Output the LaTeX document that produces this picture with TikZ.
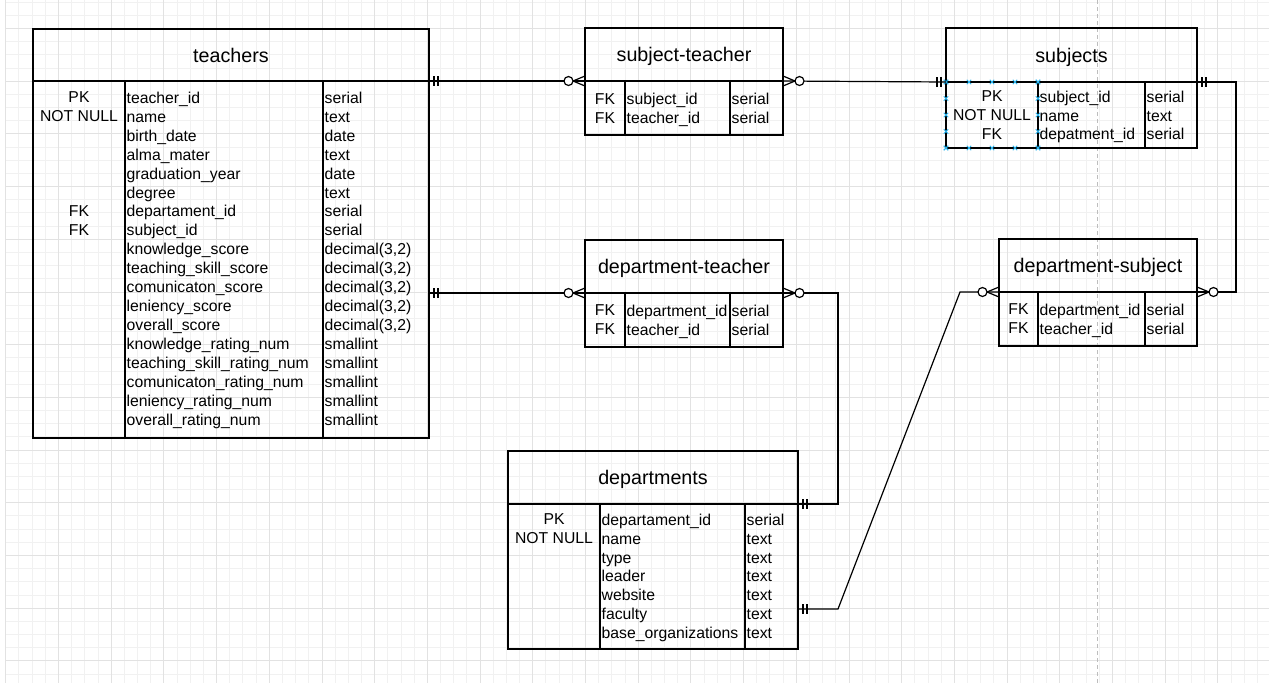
\documentclass[tikz,border=0pt]{standalone}
\usepackage{fontspec}
\setmainfont{Liberation Sans}
\usepackage{tikz}
\usetikzlibrary{positioning,calc}
\definecolor{gridminor}{HTML}{F1F1F1}
\definecolor{gridmajor}{HTML}{E2E2E2}
\definecolor{pagegray}{HTML}{BDBDBD}
\definecolor{selblue}{HTML}{29B6F2}
\tikzset{
  tabhead/.style={rectangle,draw,line width=1.2pt,anchor=north west,inner sep=0pt,outer sep=0pt,
                  font=\fontsize{19.7}{23}\selectfont,text height=14.2pt,text depth=0pt},
  tabcol/.style={rectangle,draw,line width=1.2pt,anchor=north west,inner sep=0pt,outer sep=0pt},
  keytxt/.style={inner sep=0pt,align=center,font=\fontsize{15.75}{18.94}\selectfont},
  coltxt/.style={inner sep=0pt,align=left,font=\fontsize{15.75}{18.94}\selectfont},
  rel/.style={line width=1.2pt},
  gridthin/.style={draw=gridminor,line width=0.8pt},
  gridthick/.style={draw=gridmajor,line width=0.8pt},
  zeromany/.pic={\draw[rel] (0,-5) -- (12,0) -- (0,5);
                 \draw[rel,fill=white] (16.5,0) circle[radius=4.5pt];},
  oneone/.pic={\draw[rel] (5,-5) -- (5,5) (9,-5) -- (9,5);},
  selmark/.pic={\draw[selblue,line width=0.9pt] (-2.2,-2.2) -- (2.2,2.2) (-2.2,2.2) -- (2.2,-2.2);},
}
\begin{document}
\begin{tikzpicture}[x=1pt,y=-1pt]
  \useasboundingbox (0,0) rectangle (1269,683);
  \fill[white] (0,0) rectangle (1269,683);
  % ---- canvas grid ----
  \foreach \i in {0,...,96} \draw[gridthin] ({5.7+13.175*\i},0) -- ({5.7+13.175*\i},683);
  \foreach \i in {0,...,51} \draw[gridthin] (5.7,{2.05+13.175*\i}) -- (1269,{2.05+13.175*\i});
  \foreach \i in {0,...,24} \draw[gridthick] ({5.7+52.7*\i},0) -- ({5.7+52.7*\i},683);
  \foreach \i in {0,...,12} \draw[gridthick] (5.7,{28.4+52.7*\i}) -- (1269,{28.4+52.7*\i});
  \draw[pagegray,line width=1pt,dash pattern=on 4pt off 3pt] (1097,0) -- (1097,683);
  % ---- teachers ----
  \node[tabhead,minimum width=396pt,minimum height=52pt] (tHead) at (33,29) {teachers};
  \node[tabcol,minimum width=92pt,minimum height=357pt] (tKey) at (tHead.south west) {};
  \node[tabcol,minimum width=198pt,minimum height=357pt] (tName) at (tKey.north east) {};
  \node[tabcol,minimum width=106pt,minimum height=357pt] (tType) at (tName.north east) {};
  \node[keytxt,below=10.7pt of tKey.north] (tKeyTxt)
    {PK\\NOT NULL\\\mbox{}\\\mbox{}\\\mbox{}\\\mbox{}\\FK\\FK};
  \node[coltxt,below right=10.7pt and 1.5pt of tName.north west] (tNameTxt)
    {teacher\_id\\name\\birth\_date\\alma\_mater\\graduation\_year\\degree\\departament\_id\\
     subject\_id\\knowledge\_score\\teaching\_skill\_score\\comunicaton\_score\\leniency\_score\\
     overall\_score\\knowledge\_rating\_num\\teaching\_skill\_rating\_num\\comunicaton\_rating\_num\\
     leniency\_rating\_num\\overall\_rating\_num};
  \node[coltxt,below right=10.7pt and 1.5pt of tType.north west] (tTypeTxt)
    {serial\\text\\date\\text\\date\\text\\serial\\serial\\decimal(3,2)\\decimal(3,2)\\
     decimal(3,2)\\decimal(3,2)\\decimal(3,2)\\smallint\\smallint\\smallint\\smallint\\smallint};
  % ---- subject-teacher ----
  \node[tabhead,minimum width=198pt,minimum height=53pt] (stHead) at (585,28) {subject-teacher};
  \node[tabcol,minimum width=40pt,minimum height=54pt] (stKey) at (stHead.south west) {};
  \node[tabcol,minimum width=105pt,minimum height=54pt] (stName) at (stKey.north east) {};
  \node[tabcol,minimum width=53pt,minimum height=54pt] (stType) at (stName.north east) {};
  \node[keytxt,below=12.2pt of stKey.north] (stKeyTxt) {FK\\FK};
  \node[coltxt,below right=12.2pt and 1.5pt of stName.north west] (stNameTxt) {subject\_id\\teacher\_id};
  \node[coltxt,below right=12.2pt and 1.5pt of stType.north west] (stTypeTxt) {serial\\serial};
  % ---- subjects ----
  \node[tabhead,minimum width=251pt,minimum height=54pt] (sHead) at (946,28) {subjects};
  \node[tabcol,minimum width=92pt,minimum height=66pt] (sKey) at (sHead.south west) {};
  \node[tabcol,minimum width=107pt,minimum height=66pt] (sName) at (sKey.north east) {};
  \node[tabcol,minimum width=52pt,minimum height=66pt] (sType) at (sName.north east) {};
  \node[keytxt,below=8.5pt of sKey.north] (sKeyTxt) {PK\\NOT NULL\\FK};
  \node[coltxt,below right=8.5pt and 1.5pt of sName.north west] (sNameTxt) {subject\_id\\name\\depatment\_id};
  \node[coltxt,below right=8.5pt and 1.5pt of sType.north west] (sTypeTxt) {serial\\text\\serial};
  % ---- department-teacher ----
  \node[tabhead,minimum width=198pt,minimum height=53pt] (dtHead) at (585,240) {department-teacher};
  \node[tabcol,minimum width=40pt,minimum height=54pt] (dtKey) at (dtHead.south west) {};
  \node[tabcol,minimum width=105pt,minimum height=54pt] (dtName) at (dtKey.north east) {};
  \node[tabcol,minimum width=53pt,minimum height=54pt] (dtType) at (dtName.north east) {};
  \node[keytxt,below=11.5pt of dtKey.north] (dtKeyTxt) {FK\\FK};
  \node[coltxt,below right=11.5pt and 1.5pt of dtName.north west] (dtNameTxt) {department\_id\\teacher\_id};
  \node[coltxt,below right=11.5pt and 1.5pt of dtType.north west] (dtTypeTxt) {serial\\serial};
  % ---- department-subject ----
  \node[tabhead,minimum width=198pt,minimum height=53pt] (dsHead) at (999,239) {department-subject};
  \node[tabcol,minimum width=39pt,minimum height=54pt] (dsKey) at (dsHead.south west) {};
  \node[tabcol,minimum width=107pt,minimum height=54pt] (dsName) at (dsKey.north east) {};
  \node[tabcol,minimum width=52pt,minimum height=54pt] (dsType) at (dsName.north east) {};
  \node[keytxt,below=11.5pt of dsKey.north] (dsKeyTxt) {FK\\FK};
  \node[coltxt,below right=11.5pt and 1.5pt of dsName.north west] (dsNameTxt) {department\_id\\teacher\_id};
  \node[coltxt,below right=11.5pt and 1.5pt of dsType.north west] (dsTypeTxt) {serial\\serial};
  % ---- departments ----
  \node[tabhead,minimum width=290pt,minimum height=53pt] (dHead) at (508,451) {departments};
  \node[tabcol,minimum width=92pt,minimum height=145pt] (dKey) at (dHead.south west) {};
  \node[tabcol,minimum width=145pt,minimum height=145pt] (dName) at (dKey.north east) {};
  \node[tabcol,minimum width=53pt,minimum height=145pt] (dType) at (dName.north east) {};
  \node[keytxt,below=9.5pt of dKey.north] (dKeyTxt) {PK\\NOT NULL};
  \node[coltxt,below right=9.5pt and 1.5pt of dName.north west] (dNameTxt)
    {departament\_id\\name\\type\\leader\\website\\faculty\\base\_organizations};
  \node[coltxt,below right=9.5pt and 1.5pt of dType.north west] (dTypeTxt)
    {serial\\text\\text\\text\\text\\text\\text};
  % ---- selected cell ----
  \foreach \k in {0,...,4} {
    \pic at ($(sKey.north west)+(23*\k,0)$) {selmark};
    \pic at ($(sKey.south west)+(23*\k,0)$) {selmark};
    \pic at ($(sKey.north west)+(0,16.5*\k)$) {selmark};
    \pic at ($(sKey.north east)+(0,16.5*\k)$) {selmark};
  }
  % ---- relations ----
  \coordinate (tOut) at (tType.east |- dtHead.south);
  \coordinate (dOut) at ($(dType.south east)+(0,-40)$);
  \coordinate (dsIn) at ($(dsHead.south west)+(-39,0)$);
  \draw[rel] (tHead.south east) -- (stHead.south west);
  \draw[rel] (tOut) -- (dtHead.south west);
  \draw[rel] (stHead.south east) -- (sHead.south west);
  \draw[rel] (sHead.south east) -- ++(39,0) |- (dsHead.south east);
  \draw[rel] (dtHead.south east) -- ++(55,0) |- (dHead.south east);
  \draw[rel] (dOut) -- ++(40,0) -- (dsIn) -- (dsHead.south west);
  % ---- ends ----
  \pic at (tHead.south east) {oneone};
  \pic[rotate=180] at (stHead.south west) {zeromany};
  \pic at (tOut) {oneone};
  \pic[rotate=180] at (dtHead.south west) {zeromany};
  \pic at (stHead.south east) {zeromany};
  \pic[rotate=180] at (sHead.south west) {oneone};
  \pic at (sHead.south east) {oneone};
  \pic at (dsHead.south east) {zeromany};
  \pic at (dtHead.south east) {zeromany};
  \pic at (dHead.south east) {oneone};
  \pic at (dOut) {oneone};
  \pic[rotate=180] at (dsHead.south west) {zeromany};
\end{tikzpicture}
\end{document}
